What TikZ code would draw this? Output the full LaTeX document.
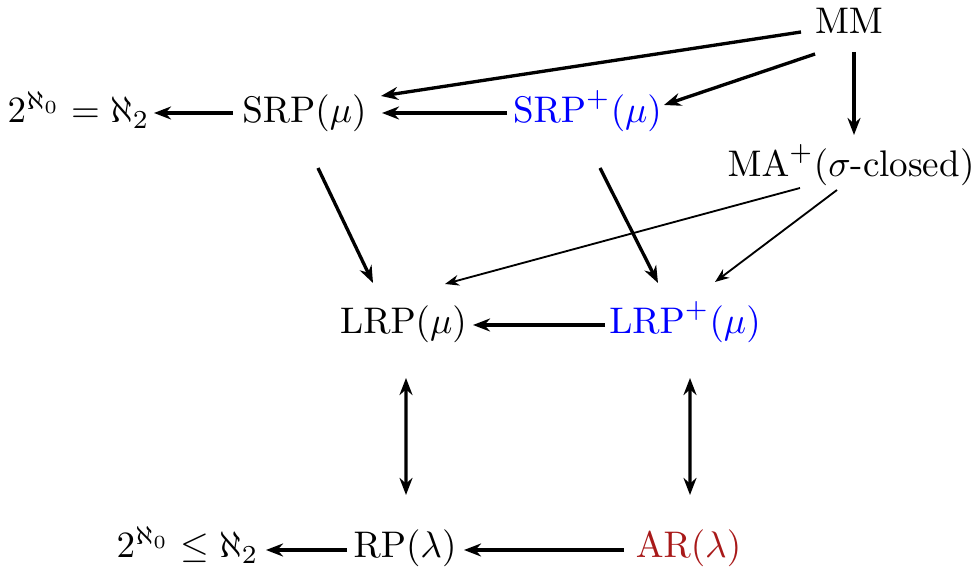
\documentclass[tikz,border=0pt]{standalone}
\usetikzlibrary{arrows.meta,calc}
\definecolor{arred}{rgb}{0.66,0.10,0.10}
\begin{document}
\begin{tikzpicture}[x=0.27pt,y=-0.27pt,
  lbl/.style={anchor=base,inner sep=0pt,outer sep=0pt},
  arr/.style={line width=0.9pt,-{Stealth[length=4.6pt,width=3.5pt]}},
  darr/.style={line width=0.9pt,{Stealth[length=4.6pt,width=3.5pt]}-{Stealth[length=4.6pt,width=3.5pt]}},
  tarr/.style={line width=0.5pt,-{Stealth[length=3.8pt,width=2.9pt]}}]
\useasboundingbox (0,0) rectangle (977,575);
\node[lbl] (n1) at (78.5,123) {$2^{\aleph_0}=\aleph_2$};
\node[lbl] (srp) at (304.5,123) {$\mathrm{SRP}(\mu)$};
\node[lbl,text=blue] (srpp) at (587.5,123) {$\mathrm{SRP}^+(\mu)$};
\node[lbl] (mm) at (849,34) {$\mathrm{MM}$};
\node[lbl] (ma) at (851,177) {$\mathrm{MA}^+(\sigma\mbox{-closed})$};
\node[lbl] (lrp) at (403.5,334) {$\mathrm{LRP}(\mu)$};
\node[lbl,text=blue] (lrpp) at (685,334) {$\mathrm{LRP}^+(\mu)$};
\node[lbl] (n2) at (187.5,558) {$2^{\aleph_0}\leq\aleph_2$};
\node[lbl] (rp) at (405,558) {$\mathrm{RP}(\lambda)$};
\node[lbl,text=arred] (ar) at (688.5,558) {$\mathrm{AR}(\lambda)$};

\draw[arr] ($(mm.base)+(-48,-2)$) -- ($(srp.base)+(76.5,-27)$);
\draw[arr] ($(mm.base)+(-34,20)$) -- ($(srpp.base)+(76.5,-18)$);
\draw[arr] ($(mm.base)+(5,18)$) -- ($(ma.base)+(3,-42)$);
\draw[arr] ($(srpp.base)+(-80.5,-10)$) -- ($(srp.base)+(77.5,-10)$);
\draw[arr] ($(srp.base)+(-71.5,-10)$) -- ($(n1.base)+(75.5,-10)$);
\draw[arr] ($(srp.base)+(13.5,45)$) -- ($(lrp.base)+(-30.5,-51)$);
\draw[arr] ($(srpp.base)+(12.5,45)$) -- ($(lrpp.base)+(-27,-51)$);
\draw[tarr] ($(ma.base)+(-51,11)$) -- ($(lrp.base)+(41.5,-50)$);
\draw[tarr] ($(ma.base)+(-14,13)$) -- ($(lrpp.base)+(30,-52)$);
\draw[arr] ($(lrpp.base)+(-80,-9)$) -- ($(lrp.base)+(69.5,-9)$);
\draw[darr] ($(lrp.base)+(2.5,44)$) -- ($(rp.base)+(1,-63)$);
\draw[darr] ($(lrpp.base)+(5,44)$) -- ($(ar.base)+(1.5,-63)$);
\draw[arr] ($(ar.base)+(-64.5,-8)$) -- ($(rp.base)+(59,-8)$);
\draw[arr] ($(rp.base)+(-58,-8)$) -- ($(n2.base)+(78.5,-8)$);
\end{tikzpicture}
\end{document}
